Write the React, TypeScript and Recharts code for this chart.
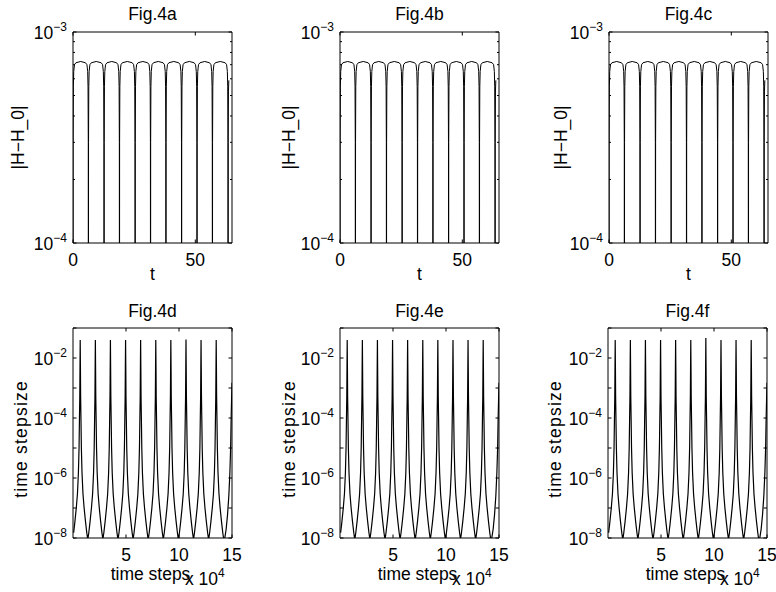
import { LineChart, Line, XAxis, YAxis, ReferenceArea } from 'recharts';

const FONT = '"Liberation Sans", Arial, Helvetica, sans-serif';
const FS = 17.5;
const PW = 159;

// ---- top row: |H-H_0| against t (log scale) ----
// times where |H-H_0| drops to zero
const energyDips = [0, 6.3, 12.7, 19.0, 25.4, 31.7, 38.0, 44.4, 50.7, 57.0, 63.4];
// shape of a hump next to a dip: distance from the dip and value there
const shoulderOffsets = [0, 0.05, 0.15, 0.3, 0.6, 1.2];
const shoulderValues = [1e-6, 3e-4, 5.5e-4, 6.5e-4, 7.0e-4, 7.15e-4];
const humpTop = 7.25e-4;
// short rise after the last dip
const energyTailT = [63.45, 63.55, 63.7];
const energyTailV = [3e-4, 5.2e-4, 5.9e-4];

const energyYTicks = [1e-4, 2e-4, 3e-4, 4e-4, 5e-4, 6e-4, 7e-4, 8e-4, 9e-4, 1e-3];
const energyXTicks = [0, 50];

// ---- bottom row: time stepsize against time steps (x 10^4) ----
const spikeCentres = [0.68, 2.11, 3.53, 4.96, 6.38, 7.81, 9.23, 10.66, 12.08, 13.51];
const spikePeaksD = [0.04, 0.04, 0.04, 0.04, 0.04, 0.04, 0.04, 0.041, 0.04, 0.04];
const spikePeaksE = [0.04, 0.04, 0.04, 0.04, 0.04, 0.04, 0.04, 0.04, 0.04, 0.04];
const spikePeaksF = [0.04, 0.04, 0.04, 0.04, 0.04, 0.04, 0.046, 0.04, 0.04, 0.04];
// flank of a spike: distance from its centre and value there
const flankOffsets = [0.02, 0.04, 0.07, 0.11, 0.17, 0.26, 0.37, 0.5, 0.62, 0.71];
const flankValues = [5e-3, 5e-4, 1e-4, 1e-5, 1.5e-6, 3e-7, 1e-7, 3.5e-8, 1.5e-8, 0.9e-8];
// partial spike at the right edge
const stepTailX = [14.32, 14.45, 14.58, 14.7, 14.8, 14.87, 14.92, 14.96, 15.0];
const stepTailY = [1e-8, 2e-8, 6e-8, 2.5e-7, 1.5e-6, 1e-5, 1e-4, 4e-4, 1.5e-3];

const stepYTicks = [1e-8, 1e-7, 1e-6, 1e-5, 1e-4, 1e-3, 1e-2, 1e-1];
const stepYLabelled = [-8, -6, -4, -2];
const stepXTicks = [5, 10, 15];

type Pt = { x: number; y: number };

function buildEnergy(): Pt[] {
  const pts: Pt[] = [];
  energyDips.forEach((d, k) => {
    pts.push({ x: d, y: shoulderValues[0] });
    const next = energyDips[k + 1];
    if (next === undefined) return;
    for (let j = 1; j < shoulderOffsets.length; j++) pts.push({ x: d + shoulderOffsets[j], y: shoulderValues[j] });
    pts.push({ x: (d + next) / 2, y: humpTop });
    for (let j = shoulderOffsets.length - 1; j >= 1; j--) pts.push({ x: next - shoulderOffsets[j], y: shoulderValues[j] });
  });
  energyTailT.forEach((t, i) => pts.push({ x: t, y: energyTailV[i] }));
  return pts;
}

function buildSteps(peaks: number[]): Pt[] {
  const pts: Pt[] = [];
  spikeCentres.forEach((c, k) => {
    for (let j = flankOffsets.length - 1; j >= 0; j--) {
      const x = c - flankOffsets[j];
      if (x >= 0) pts.push({ x, y: flankValues[j] });
    }
    pts.push({ x: c, y: peaks[k] });
    for (let j = 0; j < flankOffsets.length; j++) pts.push({ x: c + flankOffsets[j], y: flankValues[j] });
  });
  stepTailX.forEach((x, i) => pts.push({ x, y: stepTailY[i] }));
  return pts;
}

const energyData = buildEnergy();

const sup = (v: number) => {
  const e = Math.round(Math.log10(v));
  return (e < 0 ? '\u2212' : '') + Math.abs(e);
};

const YTick = (props: any) => {
  const { x, y, payload, labelled } = props;
  const v = payload.value;
  const e = Math.log10(v);
  const major = Math.abs(e - Math.round(e)) < 1e-6;
  const len = major ? 3.5 : 2;
  const showLabel = major && labelled(Math.round(e));
  return (
    <g>
      <line x1={x} x2={x + len} y1={y} y2={y} stroke="#000" strokeWidth={1} />
      <line x1={x + PW - len} x2={x + PW} y1={y} y2={y} stroke="#000" strokeWidth={1} />
      {showLabel && (
        <text x={x - 6} y={y + 6.5} textAnchor="end" fontFamily={FONT} fontSize={FS} fill="#000">
          <tspan>10</tspan>
          <tspan dy={-8} fontSize={12}>{sup(v)}</tspan>
        </text>
      )}
    </g>
  );
};

const XTick = (props: any) => {
  const { x, y, payload, ph, dy } = props;
  return (
    <g>
      <line x1={x} x2={x} y1={y} y2={y - 3.5} stroke="#000" strokeWidth={1} />
      <line x1={x} x2={x} y1={y - ph} y2={y - ph + 3.5} stroke="#000" strokeWidth={1} />
      <text x={x} y={y + dy} textAnchor="middle" fontFamily={FONT} fontSize={FS} fill="#000">
        {payload.value}
      </text>
    </g>
  );
};

type PanelProps = {
  left: number;
  top: number;
  ph: number;
  data: Pt[];
  xDomain: [number, number];
  xTicks: number[];
  yDomain: [number, number];
  yTicks: number[];
  labelled: (e: number) => boolean;
  xDy: number;
  strokeWidth: number;
};

function Panel(p: PanelProps) {
  const L = 45, R = 22, T = 22, B = 30;
  return (
    <div style={{ position: 'absolute', left: p.left - L, top: p.top - T }}>
      <LineChart width={L + PW + R} height={T + p.ph + B} data={p.data} margin={{ top: T, right: R, bottom: 0, left: 0 }}>
        <XAxis
          dataKey="x"
          type="number"
          domain={p.xDomain}
          ticks={p.xTicks}
          interval={0}
          allowDataOverflow
          height={B}
          axisLine={false}
          tickLine={false}
          tickSize={0}
          tickMargin={0}
          tick={(t: any) => <XTick {...t} ph={p.ph} dy={p.xDy} />}
        />
        <YAxis
          type="number"
          scale="log"
          domain={p.yDomain}
          ticks={p.yTicks}
          interval={0}
          allowDataOverflow
          width={L}
          axisLine={false}
          tickLine={false}
          tickSize={0}
          tickMargin={0}
          tick={(t: any) => <YTick {...t} labelled={p.labelled} />}
        />
        <ReferenceArea
          x1={p.xDomain[0]}
          x2={p.xDomain[1]}
          y1={p.yDomain[0]}
          y2={p.yDomain[1]}
          fill="none"
          stroke="#000"
          strokeWidth={1}
          fillOpacity={0}
        />
        <Line
          type="linear"
          dataKey="y"
          stroke="#000"
          strokeWidth={p.strokeWidth}
          dot={false}
          isAnimationActive={false}
        />
      </LineChart>
    </div>
  );
}

const topLefts = [73, 340, 609];
const topTitles = ['Fig.4a', 'Fig.4b', 'Fig.4c'];
const topYLabelGap = [49, 45, 42];
const botLefts = [73, 340, 608];
const botTitles = ['Fig.4d', 'Fig.4e', 'Fig.4f'];
const botPeaks = [spikePeaksD, spikePeaksE, spikePeaksF];
const botYLabelGap = [46, 45, 47];
const TOP_Y = 32, TOP_H = 211;
const BOT_Y = 328, BOT_H = 210;

export default function App() {
  return (
    <div style={{ position: 'absolute', left: 0, top: 0, width: 776, height: 592, background: '#fff', overflow: 'hidden' }}>
      {topLefts.map((l) => (
        <Panel
          key={'t' + l}
          left={l}
          top={TOP_Y}
          ph={TOP_H}
          data={energyData}
          xDomain={[0, 65]}
          xTicks={energyXTicks}
          yDomain={[1e-4, 1e-3]}
          yTicks={energyYTicks}
          labelled={() => true}
          xDy={22.5}
          strokeWidth={1}
        />
      ))}
      {botLefts.map((l, i) => (
        <Panel
          key={'b' + l}
          left={l}
          top={BOT_Y}
          ph={BOT_H}
          data={buildSteps(botPeaks[i])}
          xDomain={[0, 15]}
          xTicks={stepXTicks}
          yDomain={[1e-8, 1e-1]}
          yTicks={stepYTicks}
          labelled={(e) => stepYLabelled.includes(e)}
          xDy={23}
          strokeWidth={1.2}
        />
      ))}
      <svg width={776} height={592} style={{ position: 'absolute', left: 0, top: 0, pointerEvents: 'none' }}>
        <g fontFamily={FONT} fontSize={FS} fill="#000">
          {topLefts.map((l, i) => (
            <g key={'tt' + i}>
              <text x={l + PW / 2} y={TOP_Y - 12.5} textAnchor="middle">{topTitles[i]}</text>
              <text x={l + PW / 2} y={TOP_Y + TOP_H + 37} textAnchor="middle">t</text>
              <text transform={`translate(${l - topYLabelGap[i]},${TOP_Y + TOP_H / 2}) rotate(-90)`} textAnchor="middle">
                |H{'\u2212'}H_0|
              </text>
            </g>
          ))}
          {botLefts.map((l, i) => (
            <g key={'bt' + i}>
              <text x={l + PW / 2} y={BOT_Y - 11.5} textAnchor="middle">{botTitles[i]}</text>
              <text x={l + PW / 2 - 2} y={BOT_Y + BOT_H + 42} textAnchor="middle">time steps</text>
              <text x={l + 112} y={BOT_Y + BOT_H + 47}>
                <tspan>x 10</tspan>
                <tspan dy={-8} fontSize={12}>4</tspan>
              </text>
              <text
                transform={`translate(${l - botYLabelGap[i]},${BOT_Y + BOT_H / 2 + 6}) rotate(-90)`}
                textAnchor="middle"
                letterSpacing={1.2}
              >
                time stepsize
              </text>
            </g>
          ))}
        </g>
      </svg>
    </div>
  );
}
